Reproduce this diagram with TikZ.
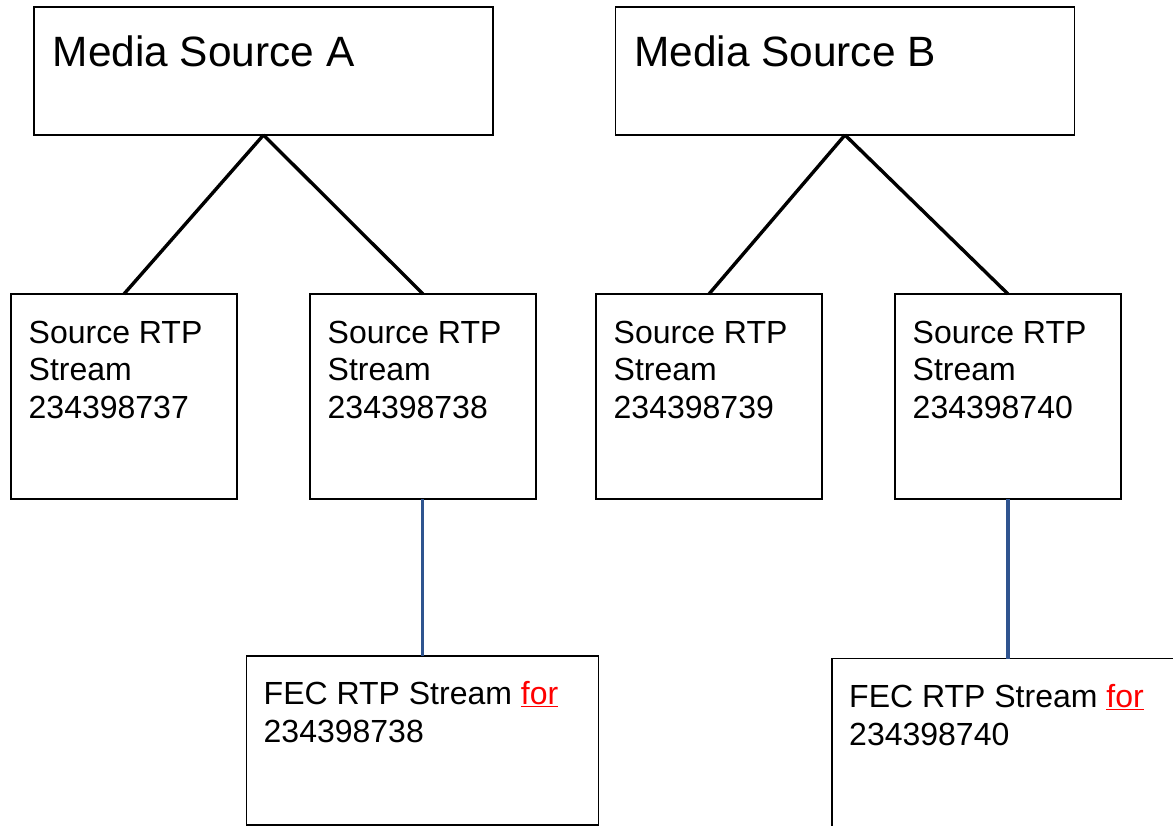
\documentclass[tikz,border=0pt]{standalone}
\usepackage{fontspec}
\setmainfont{Liberation Sans}
\definecolor{linkblue}{RGB}{47,84,143}
\tikzset{
  box/.style={draw, line width=1.8pt, inner sep=0pt, outer sep=0pt},
  mediatext/.style={anchor=base west, inner sep=0pt, font=\fontsize{42.4}{50}\selectfont},
  streamtext/.style={anchor=base west, inner sep=0pt, font=\fontsize{32}{37.7}\selectfont},
  tree/.style={line width=3.4pt},
  fecline/.style={line width=3.4pt, linkblue}
}
\newcommand{\streamlines}[1]{\begin{tabular}[t]{@{}l@{}}#1\end{tabular}}
\begin{document}
\begin{tikzpicture}[x=1pt,y=-1pt]
    \useasboundingbox (0,0) rectangle (1173,826);
    \clip (0,0) rectangle (1173,826);

    % Media sources
    \node[box, minimum width=459pt, minimum height=128pt] (msA) at (263.5,71) {};
    \node[box, minimum width=459pt, minimum height=128pt] (msB) at (845,71) {};
    \node[mediatext] (msAtext) at ([shift={(18.5,59.7)}]msA.north west) {Media Source A};
    \node[mediatext] (msBtext) at ([shift={(18.5,59.7)}]msB.north west) {Media Source B};

    % Source RTP streams
    \node[box, minimum width=226pt, minimum height=205pt] (s737) at (124,396.5) {};
    \node[box, minimum width=226pt, minimum height=205pt] (s738) at (423,396.5) {};
    \node[box, minimum width=226pt, minimum height=205pt] (s739) at (709,396.5) {};
    \node[box, minimum width=226pt, minimum height=205pt] (s740) at (1008,396.5) {};
    \node[streamtext] (s737text) at ([shift={(17.5,49.3)}]s737.north west) {\streamlines{Source RTP\\Stream\\234398737}};
    \node[streamtext] (s738text) at ([shift={(17.5,49.3)}]s738.north west) {\streamlines{Source RTP\\Stream\\234398738}};
    \node[streamtext] (s739text) at ([shift={(17.5,49.3)}]s739.north west) {\streamlines{Source RTP\\Stream\\234398739}};
    \node[streamtext] (s740text) at ([shift={(17.5,49.3)}]s740.north west) {\streamlines{Source RTP\\Stream\\234398740}};

    % FEC streams
    \node[box, anchor=north west, minimum width=352pt, minimum height=169pt] (fec738) at (246.5,656) {};
    \node[box, anchor=north west, minimum width=400pt, minimum height=220pt] (fec740) at (832,658.5) {};
    \node[streamtext] (fec738text) at ([shift={(17,48.5)}]fec738.north west) {\streamlines{FEC RTP Stream \textcolor{red}{\underline{for}}\\234398738}};
    \node[streamtext] (fec740text) at ([shift={(17,49.3)}]fec740.north west) {\streamlines{FEC RTP Stream \textcolor{red}{\underline{for}}\\234398740}};

    % Tree lines
    \draw[tree] (msA.south) -- (s737.north);
    \draw[tree] (msA.south) -- (s738.north);
    \draw[tree] (msB.south) -- (s739.north);
    \draw[tree] (msB.south) -- (s740.north);

    % FEC links
    \draw[fecline] (s738.south -| fec738.north) -- (fec738.north);
    \draw[fecline] (s740.south) -- (s740.south |- fec740.north);

\end{tikzpicture}
\end{document}
